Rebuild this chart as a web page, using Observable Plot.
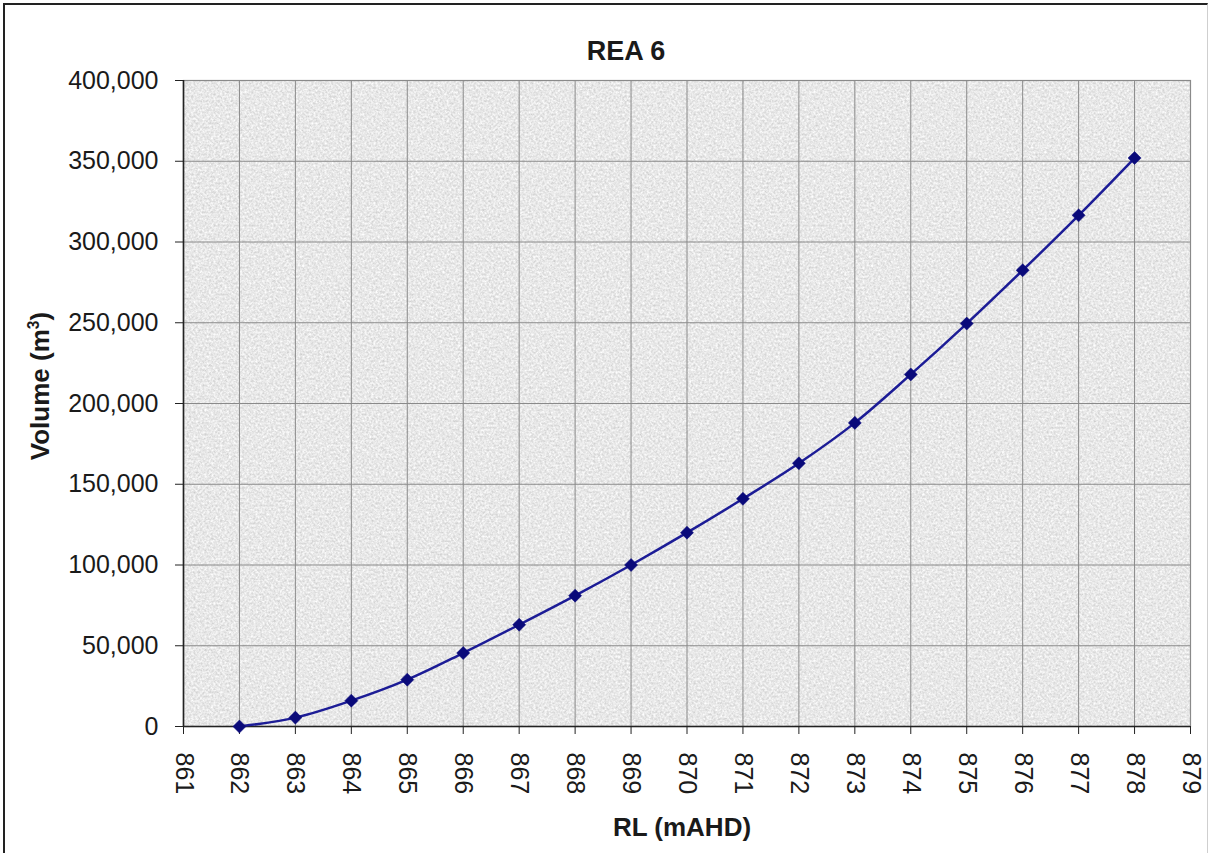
<!DOCTYPE html>
<html>
<head>
<meta charset="utf-8">
<script src="https://cdn.jsdelivr.net/npm/d3@7"></script>
<script src="https://cdn.jsdelivr.net/npm/@observablehq/plot@0.6"></script>
<style>
  html, body { margin: 0; padding: 0; background: #fff; }
  #wrap { position: relative; width: 1212px; height: 853px; overflow: hidden; font-family: "Liberation Sans", Arial, sans-serif; color: #1a1a1a; }
  #border { position: absolute; left: 3px; top: 3px; width: 1205px; height: 870px; border-top: 2px solid #222; border-left: 2px solid #222; border-right: 1px solid #cfcfcf; box-sizing: border-box; }
  #chart { position: absolute; left: 0; top: 0; }
  .lbl { position: absolute; font-weight: bold; font-size: 26px; white-space: nowrap; }
  #title { left: 626px; top: 51px; transform: translate(-50%, -50%); font-size: 27px; }
  #xlabel { left: 682px; top: 827px; transform: translate(-50%, -50%); }
  #ylabel { left: 40px; top: 386px; transform: translate(-50%, -50%) rotate(-90deg); }
  #ylabel sup { font-size: 0.6em; }
</style>
</head>
<body>
<div id="wrap">
  <div id="border"></div>
  <div id="chart"></div>
  <div class="lbl" id="title">REA 6</div>
  <div class="lbl" id="xlabel">RL (mAHD)</div>
  <div class="lbl" id="ylabel">Volume (m<sup>3</sup>)</div>
</div>
<script>
// Data
const rl = [862, 863, 864, 865, 866, 867, 868, 869, 870, 871, 872, 873, 874, 875, 876, 877, 878];
const volume = [0, 5500, 16000, 29000, 45500, 63000, 81000, 100000, 120000, 141000, 163000, 188000, 218000, 249500, 282500, 316500, 352000];
const xTicks = [861, 862, 863, 864, 865, 866, 867, 868, 869, 870, 871, 872, 873, 874, 875, 876, 877, 878, 879];
const yTicks = [0, 50000, 100000, 150000, 200000, 250000, 300000, 350000, 400000];

const data = rl.map((x, i) => ({x, y: volume[i]}));

const plot = Plot.plot({
  width: 1212,
  height: 853,
  marginLeft: 183,
  marginRight: 22,
  marginTop: 80,
  marginBottom: 127,
  style: { fontFamily: '"Liberation Sans", Arial, sans-serif', fontSize: "25px", color: "#1a1a1a", background: "transparent" },
  x: { domain: [861, 879] },
  y: { domain: [0, 400000] },
  marks: [
    Plot.frame({ fill: "#e6e6e6", stroke: null }),
    Plot.gridX(xTicks, { stroke: "#8a8a8a", strokeOpacity: 1, strokeWidth: 1 }),
    Plot.gridY(yTicks, { stroke: "#8a8a8a", strokeOpacity: 1, strokeWidth: 1 }),
    Plot.frame({ stroke: "#8a8a8a", strokeWidth: 1.2 }),
    Plot.ruleX([861], { stroke: "#222", strokeWidth: 1.6 }),
    Plot.ruleY([0], { stroke: "#222", strokeWidth: 1.6 }),
    Plot.axisX({ ticks: xTicks, tickFormat: d => String(d), tickRotate: 90, tickSize: 8, tickPadding: 18, label: null, stroke: "#222", fontSize: 25 }),
    Plot.axisY({ ticks: yTicks, tickFormat: d3.format(","), tickSize: 8, tickPadding: 17, label: null, stroke: "#222", fontSize: 25 }),
    Plot.line(data, { x: "x", y: "y", stroke: "#1c1c96", strokeWidth: 2.5, curve: "catmull-rom" }),
    Plot.dot(data, { x: "x", y: "y", symbol: "square", rotate: 45, r: 5.2, fill: "#0a0a7a", stroke: "#0a0a7a", strokeWidth: 0.5 })
  ]
});

// paper texture for the plotting area
const ns = "http://www.w3.org/2000/svg";
const defs = document.createElementNS(ns, "defs");
defs.innerHTML = `
  <filter id="tex" x="0" y="0" width="100%" height="100%" color-interpolation-filters="sRGB">
    <feTurbulence type="fractalNoise" baseFrequency="0.45" numOctaves="3" seed="7" result="n"/>
    <feColorMatrix in="n" type="matrix" values="0.26 0 0 0 0.78  0.26 0 0 0 0.78  0.26 0 0 0 0.78  0 0 0 0 1" result="g"/>
    <feComposite in="g" in2="SourceGraphic" operator="in"/>
  </filter>`;
plot.insertBefore(defs, plot.firstChild);
const frameG = plot.querySelector('[aria-label="frame"]');
if (frameG) frameG.setAttribute("filter", "url(#tex)");

document.getElementById("chart").appendChild(plot);
</script>
</body>
</html>
